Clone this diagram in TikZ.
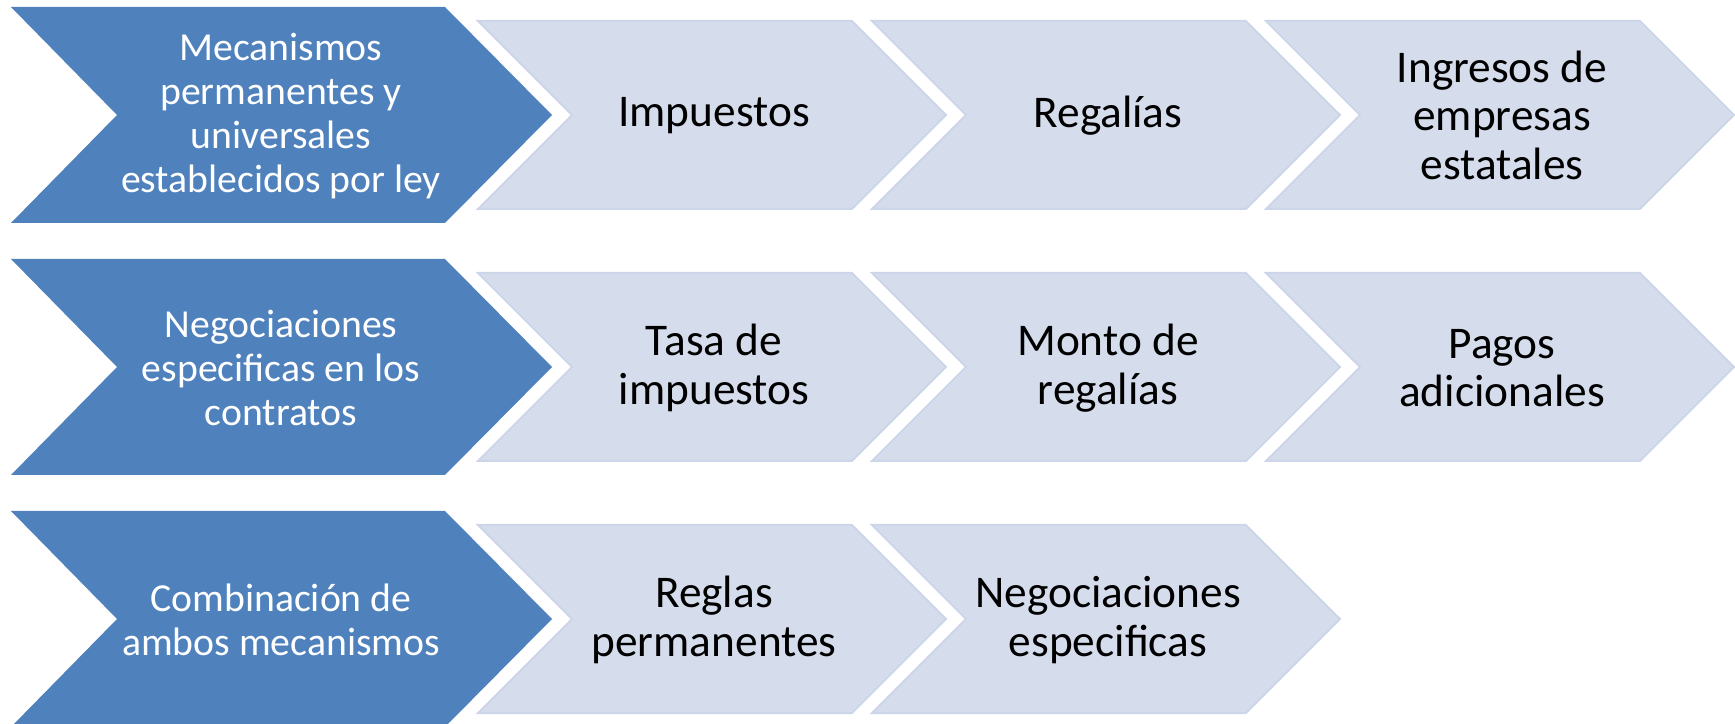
\documentclass[tikz,border=0pt]{standalone}
\usepackage{fontspec}
\setmainfont{Carlito}
\definecolor{azuloscuro}{HTML}{4F81BD}
\definecolor{azulclaro}{HTML}{D5DCEB}
\definecolor{bordeclaro}{HTML}{CDD5E8}
\tikzset{
	oscuro/.style={fill=azuloscuro, draw=none},
	claro/.style={fill=azulclaro, draw=bordeclaro, line width=0.2mm},
	titulo/.style={align=center, text=white, font=\fontsize{11.3}{12.5}\selectfont},
	punto/.style={align=center, text=black, font=\fontsize{12.9}{13.8}\selectfont}
}
\begin{document}
\begin{tikzpicture}[x=0.1mm, y=-0.1mm]
	\useasboundingbox (0,0) rectangle (1735,724);
	% Pfeile dunkel
	\foreach \y in {115,367,619}
		\filldraw[oscuro] (11,\y-108) -- (445,\y-108) -- (552,\y) --
		(445,\y+108) -- (11,\y+108) -- (117,\y) -- cycle;
	% Pfeile hell
	\foreach \y in {115,367}
		\foreach \x in {478,872,1266}
			\filldraw[claro] (\x,\y-94) -- (\x+374,\y-94) -- (\x+468,\y) --
			(\x+374,\y+94) -- (\x,\y+94) -- (\x+94,\y) -- cycle;
	\foreach \x in {478,872}
		\filldraw[claro] (\x,619-94) -- (\x+374,619-94) -- (\x+468,619) --
		(\x+374,619+94) -- (\x,619+94) -- (\x+94,619) -- cycle;
	% Zeile 1
	\node[titulo] (mecanismos) at (281,116) {Mecanismos\\permanentes y\\universales\\establecidos por ley};
	\node[punto] (impuestos) at (714,116) {Impuestos};
	\node[punto] (regalias) at (1108,116) {Regalías};
	\node[punto] (ingresos) at (1502,115) {Ingresos de\\empresas\\estatales};
	% Zeile 2
	\node[titulo] (negociaciones) at (281,368) {Negociaciones\\especificas en los\\contratos};
	\node[punto] (tasa) at (714,368) {Tasa de\\impuestos};
	\node[punto] (monto) at (1108,368) {Monto de\\regalías};
	\node[punto] (pagos) at (1502,368) {Pagos\\adicionales};
	% Zeile 3
	\node[titulo] (combinacion) at (281,620) {Combinación de\\ambos mecanismos};
	\node[punto] (reglas) at (714,620) {Reglas\\permanentes};
	\node[punto] (especificas) at (1108,620) {Negociaciones\\especificas};
\end{tikzpicture}
\end{document}
